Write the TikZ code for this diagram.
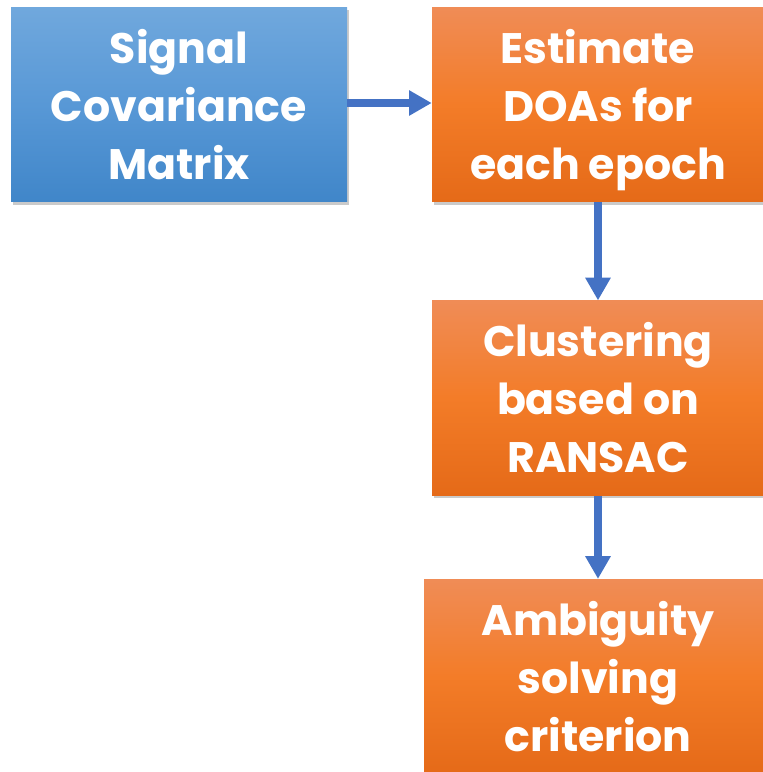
\documentclass[tikz,border=0pt]{standalone}
\usepackage{fontspec}
\setmainfont{Poppins}[BoldFont={Poppins Bold}]
\usetikzlibrary{arrows.meta,shadows,positioning}
\definecolor{bluetop}{RGB}{112,168,221}
\definecolor{bluemid}{RGB}{88,152,214}
\definecolor{bluebot}{RGB}{64,134,201}
\definecolor{orgtop}{RGB}{240,140,86}
\definecolor{orgmid}{RGB}{243,124,40}
\definecolor{orgbot}{RGB}{229,106,24}
\definecolor{arrowblue}{RGB}{68,114,196}
\tikzset{
  box/.style={rectangle, inner sep=0pt, text=white, align=center,
    font=\fontsize{32}{43.5}\selectfont\bfseries,
    drop shadow={shadow xshift=1.5pt, shadow yshift=-2pt, opacity=0.35, fill=black!60}},
  bluebox/.style={box, top color=bluetop, bottom color=bluebot, middle color=bluemid,
    minimum width=252pt, minimum height=146pt},
  orangebox/.style={box, top color=orgtop, bottom color=orgbot, middle color=orgmid,
    minimum height=146pt},
  flow/.style={draw=arrowblue, line width=6pt, -{Triangle[width=18pt,length=17pt]}}
}
\begin{document}
\begin{tikzpicture}[x=0.75pt,y=-0.75pt]
\useasboundingbox (0,0) rectangle (763,772);
\begin{scope}
\clip (0,0) rectangle (763,772);
\node[bluebox] (cov) at (179,104.5) {Signal\\Covariance\\Matrix};
\node[orangebox, minimum width=249pt] (est) at (598,104.5) {Estimate\\DOAs for\\\smash{each epoch}};
\node[orangebox, minimum width=249pt] (clu) at (598,398) {Clustering\\based on\\RANSAC};
\node[orangebox, minimum width=261pt] (amb) at (598,676.5) {Ambiguity\\solving\\criterion};
\end{scope}
\draw[flow] (cov.east |- 0,103) -- (est.west |- 0,103);
\draw[flow] (est.south) -- (clu.north);
\draw[flow] (clu.south) -- (amb.north);
\end{tikzpicture}
\end{document}
